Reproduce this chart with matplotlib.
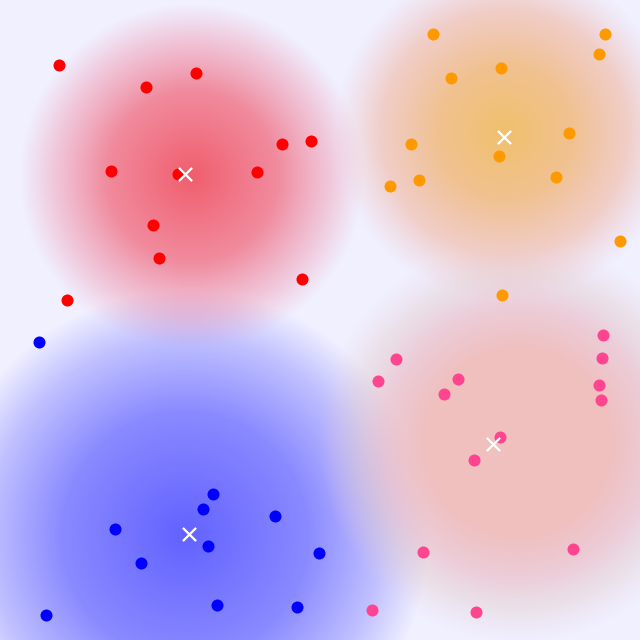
import numpy as np
import matplotlib
matplotlib.use("Agg")
import matplotlib.pyplot as plt

# cluster points (pixel coordinates, y down)
red_x = [59, 146, 196, 111, 178, 257, 282, 311, 153, 159, 302, 67]
red_y = [65, 87, 73, 171, 174, 172, 144, 141, 225, 258, 279, 300]
orange_x = [433, 605, 599, 451, 501, 569, 411, 499, 390, 419, 556, 620, 502]
orange_y = [34, 34, 54, 78, 68, 133, 144, 156, 186, 180, 177, 241, 295]
pink_x = [603, 602, 396, 378, 458, 444, 599, 601, 500, 474, 423, 573, 372, 476]
pink_y = [335, 358, 359, 381, 379, 394, 385, 400, 437, 460, 552, 549, 610, 612]
blue_x = [39, 213, 203, 115, 275, 208, 141, 319, 46, 217, 297]
blue_y = [342, 494, 509, 529, 516, 546, 563, 553, 615, 605, 607]

# centroids (white crosses)
cent_x = [185, 504, 493, 189]
cent_y = [174, 137, 444, 534]

# glows: centre, radius, colour stops (r fraction, R, G, B, alpha)
glow_names = ["blue", "red", "orange", "pink"]
glow_cx = [185, 192, 505, 518]
glow_cy = [535, 176, 132, 442]
glow_r = [245, 172, 170, 200]
glow_stops = [
    [(0.0, 98, 98, 255, 1.0), (0.5, 98, 98, 255, 0.72), (0.8, 98, 98, 255, 0.34), (1.0, 98, 98, 255, 0.0)],
    [(0.0, 240, 94, 108, 1.0), (0.5, 240, 100, 120, 0.72), (0.8, 240, 112, 140, 0.32), (1.0, 240, 120, 150, 0.0)],
    [(0.0, 240, 192, 108, 1.0), (0.4, 240, 190, 135, 0.92), (0.72, 240, 182, 160, 0.6), (1.0, 240, 185, 190, 0.0)],
    [(0.0, 240, 192, 190, 1.0), (0.47, 240, 192, 192, 1.0), (0.68, 235, 190, 200, 0.7), (0.85, 225, 200, 200, 0.35), (1.0, 242, 200, 215, 0.0)],
]

bg = np.array([240, 240, 255]) / 255.0
W = H = 640
yy, xx = np.mgrid[0:H, 0:W] + 0.5
img = np.ones((H, W, 3)) * bg
for k in range(len(glow_names)):
    r = np.hypot(xx - glow_cx[k], yy - glow_cy[k]) / glow_r[k]
    st = np.array(glow_stops[k], dtype=float)
    rc = np.clip(r, 0, 1)
    chans = [np.interp(rc, st[:, 0], st[:, i]) for i in range(1, 5)]
    col = np.stack(chans[:3], axis=-1) / 255.0
    a = chans[3] * (r < 1)
    img = img * (1 - a[..., None]) + col * a[..., None]

fig = plt.figure(figsize=(6.4, 6.4), dpi=100)
ax = fig.add_axes([0, 0, 1, 1])
ax.imshow(img, extent=(0, W, H, 0), interpolation="bilinear")

ax.scatter(red_x, red_y, s=75, color="#ff0000", zorder=3, linewidths=0)
ax.scatter(orange_x, orange_y, s=75, color="#ff9900", zorder=3, linewidths=0)
ax.scatter(pink_x, pink_y, s=75, color="#ff4590", zorder=3, linewidths=0)
ax.scatter(blue_x, blue_y, s=75, color="#0000ff", zorder=3, linewidths=0)
ax.scatter(cent_x, cent_y, s=90, marker="x", color="white", linewidths=1.6, zorder=4)

ax.set_xlim(0, W)
ax.set_ylim(H, 0)
ax.axis("off")
fig.savefig("out.png", dpi=100)
